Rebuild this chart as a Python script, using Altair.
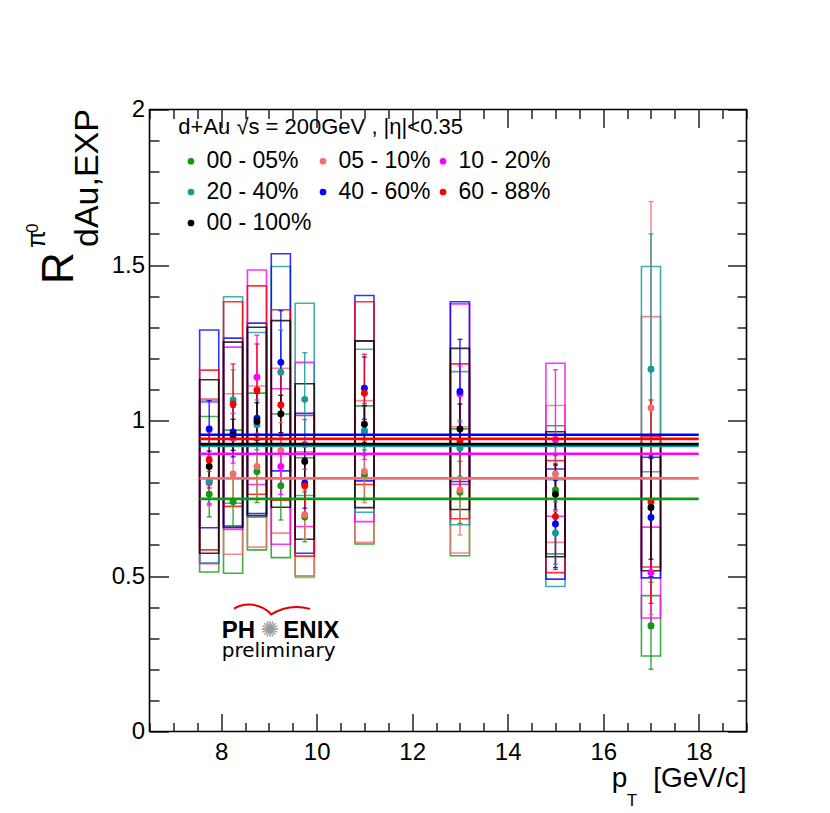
import altair as alt
import pandas as pd

# ---------------- data ----------------
pt = [7.75, 8.25, 8.75, 9.25, 9.75, 11.0, 13.0, 15.0, 17.0]
box_half_width = 0.2

centralities = ["00 - 05%", "05 - 10%", "10 - 20%", "20 - 40%", "40 - 60%", "60 - 88%", "00 - 100%"]
colors = ["#109a10", "#f26d6d", "#ff00ff", "#139a9a", "#0000ff", "#ff0000", "#000000"]

r_00_05 = [0.763, 0.739, 0.836, 0.790, 0.690, 0.825, 0.769, 0.777, 0.340]
stat_00_05 = [0.073, 0.080, 0.100, 0.110, 0.080, 0.080, 0.100, 0.110, 0.140]
sys_00_05 = [0.250, 0.230, 0.252, 0.231, 0.190, 0.222, 0.204, 0.206, 0.097]

r_05_10 = [0.805, 0.828, 0.852, 0.903, 0.697, 0.836, 0.777, 0.828, 1.040]
stat_05_10 = [0.080, 0.090, 0.107, 0.090, 0.080, 0.100, 0.145, 0.120, 0.664]
sys_05_10 = [0.265, 0.258, 0.259, 0.265, 0.202, 0.228, 0.203, 0.220, 0.294]

r_10_20 = [0.800, 0.943, 1.139, 0.852, 0.923, 0.965, 1.085, 0.938, 0.511]
stat_10_20 = [0.070, 0.080, 0.135, 0.090, 0.080, 0.090, 0.090, 0.225, 0.180]
sys_10_20 = [0.260, 0.293, 0.345, 0.250, 0.264, 0.290, 0.290, 0.246, 0.146]

r_20_40 = [0.804, 1.066, 0.986, 1.155, 1.068, 0.967, 0.911, 0.638, 1.165]
stat_20_40 = [0.070, 0.097, 0.080, 0.136, 0.150, 0.080, 0.090, 0.100, 0.435]
sys_20_40 = [0.262, 0.332, 0.297, 0.340, 0.309, 0.262, 0.246, 0.172, 0.330]

r_40_60 = [0.973, 0.963, 1.007, 1.187, 0.798, 1.104, 1.093, 0.667, 0.688]
stat_40_60 = [0.091, 0.080, 0.080, 0.166, 0.080, 0.100, 0.168, 0.140, 0.190]
sys_40_60 = [0.318, 0.302, 0.306, 0.349, 0.225, 0.298, 0.289, 0.177, 0.194]

r_60_88 = [0.873, 1.053, 1.098, 1.050, 0.790, 1.088, 0.933, 0.691, 0.739]
stat_60_88 = [0.090, 0.129, 0.148, 0.100, 0.090, 0.125, 0.160, 0.170, 0.327]
sys_60_88 = [0.289, 0.329, 0.335, 0.306, 0.226, 0.294, 0.249, 0.180, 0.210]

r_00_100 = [0.852, 0.954, 0.997, 1.021, 0.868, 0.988, 0.973, 0.763, 0.720]
stat_00_100 = [0.050, 0.050, 0.060, 0.060, 0.060, 0.060, 0.080, 0.094, 0.166]
sys_00_100 = [0.279, 0.298, 0.303, 0.300, 0.250, 0.268, 0.259, 0.201, 0.203]

fit_levels = [0.748, 0.814, 0.893, 0.918, 0.954, 0.941, 0.924]
fit_range = [7.55, 18.0]

x_major = [8, 10, 12, 14, 16, 18]
x_minor = [6.5, 7, 7.5, 8.5, 9, 9.5, 10.5, 11, 11.5, 12.5, 13, 13.5, 14.5, 15,
           15.5, 16.5, 17, 17.5, 18.5, 19]
y_major = [0, 0.5, 1, 1.5, 2]
y_minor = [0.1, 0.2, 0.3, 0.4, 0.6, 0.7, 0.8, 0.9, 1.1, 1.2, 1.3, 1.4, 1.6,
           1.7, 1.8, 1.9]

# ---------------- tables ----------------
series = [
    (r_00_05, stat_00_05, sys_00_05),
    (r_05_10, stat_05_10, sys_05_10),
    (r_10_20, stat_10_20, sys_10_20),
    (r_20_40, stat_20_40, sys_20_40),
    (r_40_60, stat_40_60, sys_40_60),
    (r_60_88, stat_60_88, sys_60_88),
    (r_00_100, stat_00_100, sys_00_100),
]
rows, caps = [], []
for order, (cent, col, (rv, st, sy)) in enumerate(zip(centralities, colors, series)):
    for x, r, s, e in zip(pt, rv, st, sy):
        rows.append(dict(cent=cent, col=col, order=order, x=x, r=r, lo=r - s, hi=r + s,
                         ylo=r - e, yhi=r + e,
                         xlo=x - box_half_width, xhi=x + box_half_width))
        caps.append(dict(cent=cent, col=col, order=order, x=x, y=r - s))
        caps.append(dict(cent=cent, col=col, order=order, x=x, y=r + s))
df = pd.DataFrame(rows)
df_caps = pd.DataFrame(caps)
df_fit = pd.DataFrame(dict(cent=centralities, col=colors, order=list(range(7)),
                           level=fit_levels,
                           x1=[fit_range[0]] * 7, x2=[fit_range[1]] * 7))

W, H = 597, 622
FONT = "Liberation Sans"
xs = alt.Scale(domain=[6.5, 19], nice=False, zero=False)
ys = alt.Scale(domain=[0, 2], nice=False, zero=False)


def tick_axis(orient, offset, values, size):
    return alt.Axis(orient=orient, offset=offset, values=values, labels=False,
                    domain=False, grid=False, ticks=True, tickSize=size,
                    tickWidth=1.3, tickColor="black", title=None)


x_label_axis = alt.Axis(orient="bottom", values=x_major, ticks=False, domain=False,
                        grid=False, labelFont=FONT, labelFontSize=24,
                        labelColor="black", labelPadding=9, labelFlush=False,
                        format="~g", title=None)
y_label_axis = alt.Axis(orient="left", values=y_major, ticks=False, domain=False,
                        grid=False, labelFont=FONT, labelFontSize=24,
                        labelColor="black", labelPadding=5, labelFlush=False,
                        format="~g", title=None)

boxes = alt.Chart(df).mark_rect(filled=False, strokeWidth=1.6, strokeOpacity=0.8).encode(
    x=alt.X("xlo:Q", scale=xs, axis=x_label_axis),
    x2="xhi:Q",
    y=alt.Y("ylo:Q", scale=ys, axis=y_label_axis),
    y2="yhi:Q",
    stroke=alt.Stroke("col:N", scale=None),
    order="order:Q",
)

errs = alt.Chart(df).mark_rule(strokeWidth=1.4, opacity=0.85).encode(
    x=alt.X("x:Q", scale=xs, axis=tick_axis("top", -H, x_major, 18)),
    y=alt.Y("lo:Q", scale=ys, axis=tick_axis("right", -W, y_major, 19)),
    y2="hi:Q",
    stroke=alt.Stroke("col:N", scale=None),
)

capmarks = alt.Chart(df_caps).mark_tick(orient="horizontal", size=5, thickness=1.3,
                                        opacity=0.85).encode(
    x=alt.X("x:Q", scale=xs, axis=tick_axis("top", -H, x_minor, 9)),
    y=alt.Y("y:Q", scale=ys, axis=tick_axis("right", -W, y_minor, 9.5)),
    fill=alt.Fill("col:N", scale=None),
)

legend = alt.Legend(
    orient="none", legendX=30, legendY=40, columns=3, direction="horizontal",
    title=None, labelFont=FONT, labelFontSize=23, labelColor="black",
    symbolType="circle", symbolSize=45, symbolStrokeWidth=0, labelOffset=4,
    columnPadding=-4, rowPadding=7, padding=0, labelLimit=200)

points = alt.Chart(df).mark_circle(size=48, opacity=1).encode(
    x=alt.X("x:Q", scale=xs, axis=tick_axis("bottom", -H, x_major, 18)),
    y=alt.Y("r:Q", scale=ys, axis=tick_axis("left", -W, y_major, 19)),
    color=alt.Color("cent:N", scale=alt.Scale(domain=centralities, range=colors),
                    legend=legend),
    order="order:Q",
)

fits = alt.Chart(df_fit).mark_rule(strokeWidth=2.6).encode(
    x=alt.X("x1:Q", scale=xs, axis=tick_axis("bottom", -H, x_minor, 9)),
    x2="x2:Q",
    y=alt.Y("level:Q", scale=ys, axis=tick_axis("left", -W, y_minor, 9.5)),
    stroke=alt.Stroke("col:N", scale=None),
    order="order:Q",
)

one = pd.DataFrame({"k": [0]})


def txt(text, x, y, size, angle=0, align="left", baseline="alphabetic",
        font=FONT, weight="normal", color="black"):
    return alt.Chart(one).mark_text(text=text, fontSize=size, angle=angle,
                                    align=align, baseline=baseline, font=font,
                                    fontWeight=weight, color=color).encode(
        x=alt.value(x), y=alt.value(y))


texts = [
    txt("d+Au \u221As = 200GeV , |\u03b7|<0.35", 28.8, 24.8, 22),
    # x-axis title
    txt("[GeV/c]", W, 677.5, 28, align="right"),
    txt("p", 462.2, 677.5, 28),
    txt("T", 477.2, 696.0, 17),
    # y-axis title
    txt("R", -76.5, 174.5, 44, angle=270),
    txt("dAu,EXP", -51.5, 137.5, 34, angle=270),
    txt("\u03c0", -104.5, 138.5, 26, angle=270),
    txt("0", -111.5, 123.5, 17, angle=270),
    # PHENIX logo
    txt("PH", 72.2, 528.8, 24, weight="bold"),
    txt("\u273a", 120.5, 520.5, 22, align="center", baseline="middle",
        font="DejaVu Sans", color="#9a9a9a"),
    txt("ENIX", 133.8, 528.8, 24, weight="bold"),
    txt("preliminary", 72.2, 547.2, 20, font="DejaVu Sans"),
]

arc_left = alt.Chart(one).mark_arc(radius=31, radius2=29, theta=5.76, theta2=7.10,
                                   color="#e00000").encode(
    x=alt.value(99.5), y=alt.value(525.0))
arc_right = alt.Chart(one).mark_arc(radius=50.5, radius2=48.5, theta=5.71, theta2=6.55,
                                    color="#e00000").encode(
    x=alt.value(147.5), y=alt.value(547.1))

chart = alt.layer(boxes, errs, capmarks, points, fits, arc_left, arc_right, *texts).resolve_axis(
    x="independent", y="independent"
).properties(
    width=W, height=H,
    padding={"left": 141.5, "top": 101.5, "right": 75, "bottom": 80},
    autosize=alt.AutoSizeParams(type="none"),
    background="white",
).configure_view(stroke="black", strokeWidth=1.6)

chart.save("out.html", embed_options={"renderer": "svg", "actions": False})
